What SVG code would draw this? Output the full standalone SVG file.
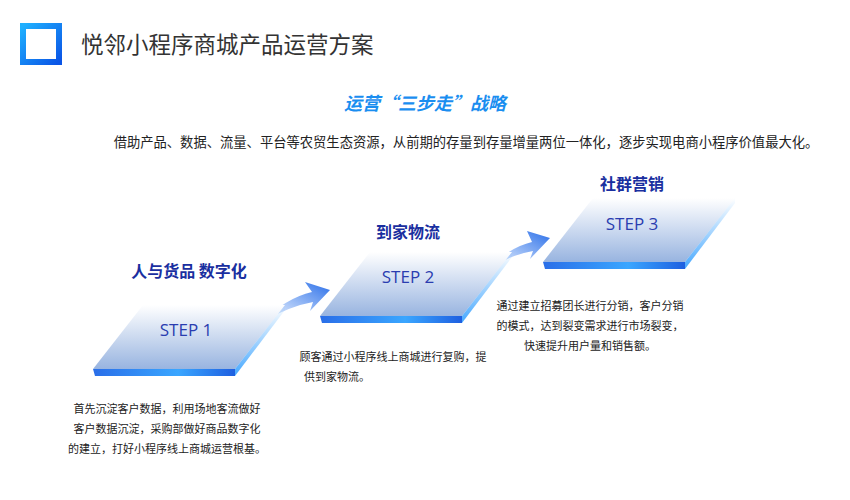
<svg xmlns="http://www.w3.org/2000/svg" width="850" height="500" viewBox="0 0 850 500">
<defs>
<linearGradient id="top" x1="0" y1="0" x2="0" y2="1"><stop offset="0" stop-color="#ffffff"/><stop offset="1" stop-color="#98b4e0"/></linearGradient>
<linearGradient id="edge" x1="0" y1="0" x2="1" y2="0"><stop offset="0" stop-color="#2a6ee8"/><stop offset="0.6" stop-color="#3aa6ff"/><stop offset="1" stop-color="#1e5fe0"/></linearGradient>
<linearGradient id="side" x1="0" y1="1" x2="0" y2="0"><stop offset="0" stop-color="#46a8ff"/><stop offset="1" stop-color="#46a8ff" stop-opacity="0"/></linearGradient>
<linearGradient id="arr" x1="0" y1="1" x2="1" y2="0"><stop offset="0" stop-color="#3a7ff0" stop-opacity="0"/><stop offset="1" stop-color="#2a6ee8"/></linearGradient>
<linearGradient id="icon" x1="0" y1="0" x2="1" y2="1"><stop offset="0" stop-color="#1fb0ff"/><stop offset="1" stop-color="#0a55e6"/></linearGradient>
<g id="plate">
<path d="M50 0 L192 0 L142 64 L0 64 Z" fill="url(#top)"/>
<path d="M0 64 L142 64 L142 71 L2 71 Z" fill="url(#edge)"/>
<path d="M142 64 L192 0 L192 5 L142 71 Z" fill="url(#side)"/>
</g>
</defs>
<style>
.t{font-family:"Noto Sans CJK SC","Liberation Sans",sans-serif}
.h{font-size:16px;font-weight:bold;fill:#1a2fa0}
.s{font-family:"Open Sans","Liberation Sans",sans-serif;font-size:17px;fill:#2a3db0}
.d{font-size:11px;fill:#222}
</style>
<rect width="850" height="500" fill="#fff"/>
<rect x="23" y="26" width="36" height="36" fill="none" stroke="url(#icon)" stroke-width="6"/>
<text class="t" x="81" y="53" font-size="22.5" fill="#333">悦邻小程序商城产品运营方案</text>
<text class="t" x="425" y="110" font-size="18" font-weight="bold" font-style="italic" fill="#1a8ef0" text-anchor="middle">运营“三步走”战略</text>
<text class="t" x="466" y="147" font-size="13.3" fill="#222" text-anchor="middle">借助产品、数据、流量、平台等农贸生态资源，从前期的存量到存量增量两位一体化，逐步实现电商小程序价值最大化。</text>
<g id="connectors">
<path d="M262 322 Q286 298 312 292 L305 282 L330 290 L310 311 L313 302 Q290 306 262 322 Z" fill="url(#arr)"/>
<path d="M486 270 Q510 247 532 242 L527 231 L550 238 L530 259 L533 251 Q510 255 486 270 Z" fill="url(#arr)"/>
</g>
<g id="step1">
<use href="#plate" x="93" y="305"/>
<text class="s" x="186" y="336" text-anchor="middle">STEP 1</text>
<text class="t h" x="189" y="277" text-anchor="middle">人与货品 数字化</text>
<text class="t d" x="167" y="413" text-anchor="middle">首先沉淀客户数据，利用场地客流做好</text>
<text class="t d" x="167" y="433" text-anchor="middle">客户数据沉淀，采购部做好商品数字化</text>
<text class="t d" x="167" y="453" text-anchor="middle">的建立，打好小程序线上商城运营根基。</text>
</g>
<g id="step2">
<use href="#plate" x="320" y="252"/>
<text class="s" x="408" y="283" text-anchor="middle">STEP 2</text>
<text class="t h" x="408" y="238" text-anchor="middle">到家物流</text>
<text class="t d" x="393" y="361" text-anchor="middle">顾客通过小程序线上商城进行复购，提</text>
<text class="t d" x="337" y="381" text-anchor="middle">供到家物流。</text>
</g>
<g id="step3">
<use href="#plate" x="543" y="198"/>
<text class="s" x="632" y="230" text-anchor="middle">STEP 3</text>
<text class="t h" x="632" y="190" text-anchor="middle">社群营销</text>
<text class="t d" x="590" y="310" text-anchor="middle">通过建立招募团长进行分销，客户分销</text>
<text class="t d" x="590" y="330" text-anchor="middle">的模式，达到裂变需求进行市场裂变，</text>
<text class="t d" x="590" y="350" text-anchor="middle">快速提升用户量和销售额。</text>
</g>
</svg>
